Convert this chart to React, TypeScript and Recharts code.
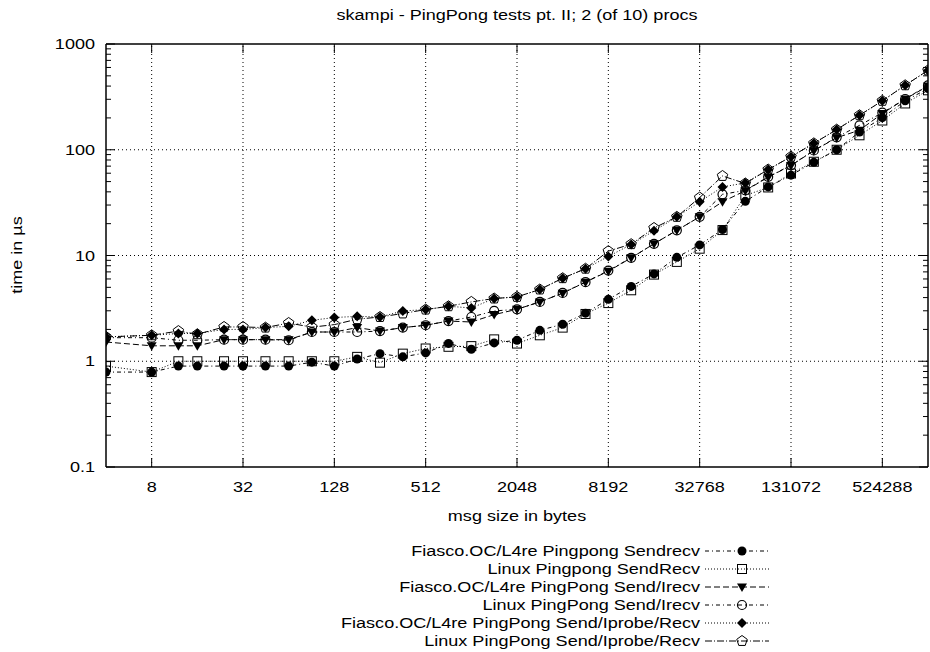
import React from "react";
import { LineChart, Line, XAxis, YAxis, ReferenceLine } from "recharts";

// message sizes in bytes (log2 axis)
const sizes = [
  4, 8, 12, 16, 24, 32, 45, 64, 91, 128, 181, 256, 362, 512, 724, 1024, 1448,
  2048, 2896, 4096, 5793, 8192, 11585, 16384, 23170, 32768, 46341, 65536,
  92682, 131072, 185364, 262144, 370728, 524288, 741455, 1048576,
];

// times in µs
const fiascoSendrecv = [
  0.79, 0.79, 0.9, 0.9, 0.9, 0.9, 0.9, 0.9, 0.98, 0.9, 1.05, 1.18, 1.1, 1.2,
  1.47, 1.3, 1.49, 1.58, 1.96, 2.24, 2.85, 3.85, 5.1, 6.7, 9.6, 12.6, 17.6,
  32.5, 44.5, 57.5, 76, 100, 147, 201, 290, 379,
];
const linuxSendRecv = [
  0.9, 0.79, 1.0, 1.0, 1.0, 1.0, 1.0, 1.0, 1.0, 1.0, 1.1, 0.97, 1.18, 1.32,
  1.37, 1.39, 1.61, 1.47, 1.76, 2.08, 2.8, 3.55, 4.69, 6.6, 8.7, 11.6, 17.4, 37,
  44, 59.6, 77, 100, 137, 189, 274, 365,
];
const fiascoIrecv = [
  1.52, 1.4, 1.4, 1.4, 1.6, 1.6, 1.6, 1.6, 1.89, 1.89, 2.08, 1.93, 2.08, 2.19,
  2.4, 2.35, 2.76, 3.1, 3.64, 4.4, 5.6, 7.1, 9.5, 12.9, 17.3, 23.2, 32.2, 41,
  55, 71, 98, 130, 153, 220, 302, 400,
];
const linuxIrecv = [
  1.67, 1.67, 1.58, 1.58, 1.6, 1.6, 1.6, 1.58, 1.89, 1.89, 1.89, 1.93, 2.08,
  2.19, 2.4, 2.62, 2.99, 3.1, 3.64, 4.43, 5.6, 7.2, 9.5, 12.9, 17.3, 23.2, 37.9,
  41.3, 55.5, 71.3, 98.5, 131, 170, 224, 302, 407,
];
const fiascoIprobe = [
  1.7, 1.76, 1.83, 1.83, 2.0, 2.0, 2.08, 2.14, 2.44, 2.59, 2.66, 2.62, 2.99,
  3.08, 3.31, 3.19, 3.92, 4.06, 4.77, 6.1, 7.5, 9.8, 12.7, 17.1, 23.2, 32.2,
  44.5, 48.6, 65, 86, 115, 155, 212, 290, 407, 563,
];
const linuxIprobe = [
  1.7, 1.76, 1.93, 1.8, 2.11, 2.11, 2.08, 2.3, 2.1, 2.22, 2.5, 2.62, 2.83, 3.08,
  3.31, 3.64, 3.92, 4.06, 4.77, 6.1, 7.5, 11.0, 12.8, 18.2, 23.2, 35.3, 56.5,
  48, 65, 86, 115, 155, 212, 290, 407, 563,
];

const xTicks = [8, 32, 128, 512, 2048, 8192, 32768, 131072, 524288];
const yMajor = [0.1, 1, 10, 100, 1000];
const yMinor = [
  0.2, 0.3, 0.4, 0.5, 0.6, 0.7, 0.8, 0.9, 2, 3, 4, 5, 6, 7, 8, 9, 20, 30, 40,
  50, 60, 70, 80, 90, 200, 300, 400, 500, 600, 700, 800, 900,
];

const FONT = '"Liberation Sans", Arial, Helvetica, sans-serif';
const FS = 15.3;
const SX = 1.18; // the reference lettering is a little wide

const series = [
  { key: "a", name: "Fiasco.OC/L4re Pingpong Sendrecv", values: fiascoSendrecv, shape: "circle", dash: "4 3 1 3" },
  { key: "b", name: "Linux Pingpong SendRecv", values: linuxSendRecv, shape: "square", dash: "1 2" },
  { key: "c", name: "Fiasco.OC/L4re PingPong Send/Irecv", values: fiascoIrecv, shape: "triangle", dash: "6 3" },
  { key: "d", name: "Linux PingPong Send/Irecv", values: linuxIrecv, shape: "ring", dash: "4 3 1 3" },
  { key: "e", name: "Fiasco.OC/L4re PingPong Send/Iprobe/Recv", values: fiascoIprobe, shape: "diamond", dash: "1 2" },
  { key: "f", name: "Linux PingPong Send/Iprobe/Recv", values: linuxIprobe, shape: "pentagon", dash: "7 2 1 2" },
];

const data = sizes.map((x, i) => {
  const row: Record<string, number> = { x };
  series.forEach((s) => (row[s.key] = s.values[i]));
  return row;
});

function Txt({ x, y, anchor, children, rotate }: any) {
  return (
    <text
      x={0}
      y={0}
      transform={`translate(${x},${y})${rotate ? ` rotate(${rotate})` : ""} scale(${SX},1)`}
      textAnchor={anchor}
      fontFamily={FONT}
      fontSize={FS}
      fill="#000"
    >
      {children}
    </text>
  );
}

function Marker({ shape, x, y }: { shape: string; x: number; y: number }) {
  if (x == null || y == null || isNaN(x) || isNaN(y)) return null;
  switch (shape) {
    case "circle":
      return <circle cx={x} cy={y} r={4.5} fill="#000" />;
    case "square":
      return <rect x={x - 4.5} y={y - 4.5} width={9} height={9} fill="none" stroke="#000" strokeWidth={1} />;
    case "triangle":
      return <polygon points={`${x - 5},${y - 3.5} ${x + 5},${y - 3.5} ${x},${y + 5}`} fill="#000" />;
    case "ring":
      return <circle cx={x} cy={y} r={4.5} fill="none" stroke="#000" strokeWidth={1.2} />;
    case "diamond":
      return <polygon points={`${x},${y - 5} ${x + 5},${y} ${x},${y + 5} ${x - 5},${y}`} fill="#000" />;
    default: {
      const pts = [0, 1, 2, 3, 4]
        .map((k) => {
          const a = -Math.PI / 2 + (k * 2 * Math.PI) / 5;
          return `${x + 5.5 * Math.cos(a)},${y + 5.5 * Math.sin(a)}`;
        })
        .join(" ");
      return <polygon points={pts} fill="none" stroke="#000" strokeWidth={1} />;
    }
  }
}

const fmtY = (v: number) => (v < 1 ? "0.1" : String(v));

function LeftTick(props: any) {
  const { x, y, payload } = props;
  const major = yMajor.includes(payload.value);
  return (
    <g>
      <line x1={x} y1={y} x2={x + (major ? 9 : 5)} y2={y} stroke="#000" />
      {major && (
        <Txt x={x - 11} y={y + 5} anchor="end">
          {fmtY(payload.value)}
        </Txt>
      )}
    </g>
  );
}

function RightTick(props: any) {
  const { x, y, payload } = props;
  const major = yMajor.includes(payload.value);
  return <line x1={x} y1={y} x2={x - (major ? 9 : 5)} y2={y} stroke="#000" />;
}

function BottomTick(props: any) {
  const { x, y, payload } = props;
  return (
    <g>
      <line x1={x} y1={y} x2={x} y2={y - 9} stroke="#000" />
      <Txt x={x} y={y + 25} anchor="middle">
        {payload.value}
      </Txt>
    </g>
  );
}

function TopTick(props: any) {
  const { x, y } = props;
  return <line x1={x} y1={y} x2={x} y2={y + 9} stroke="#000" />;
}

const axisLine = { stroke: "#000", strokeWidth: 1.5 };

export default function App() {
  return (
    <div style={{ position: "absolute", left: 0, top: 0, width: 930, height: 652, background: "#fff" }}>
      <LineChart width={930} height={652} data={data} margin={{ top: 43, right: 0, bottom: 155, left: 0 }}>
        <XAxis
          xAxisId="b"
          dataKey="x"
          type="number"
          scale="log"
          domain={[4, 1048576]}
          allowDataOverflow
          ticks={xTicks}
          interval={0}
          height={30}
          axisLine={axisLine}
          tickLine={false}
          tickSize={0}
          tickMargin={0}
          tick={<BottomTick />}
        />
        <XAxis
          xAxisId="t"
          orientation="top"
          dataKey="x"
          type="number"
          scale="log"
          domain={[4, 1048576]}
          allowDataOverflow
          ticks={xTicks}
          interval={0}
          height={1}
          axisLine={axisLine}
          tickLine={false}
          tickSize={0}
          tickMargin={0}
          tick={<TopTick />}
        />
        <YAxis
          yAxisId="l"
          type="number"
          scale="log"
          domain={[0.1, 1000]}
          allowDataOverflow
          ticks={[...yMajor, ...yMinor]}
          interval={0}
          width={106}
          axisLine={axisLine}
          tickLine={false}
          tickSize={0}
          tickMargin={0}
          tick={<LeftTick />}
        />
        <YAxis
          yAxisId="r"
          orientation="right"
          type="number"
          scale="log"
          domain={[0.1, 1000]}
          allowDataOverflow
          ticks={[...yMajor, ...yMinor]}
          interval={0}
          width={2}
          axisLine={axisLine}
          tickLine={false}
          tickSize={0}
          tickMargin={0}
          tick={<RightTick />}
        />
        {xTicks.map((v) => (
          <ReferenceLine key={"gx" + v} xAxisId="b" yAxisId="l" x={v} stroke="#000" strokeWidth={1} strokeDasharray="1 3" />
        ))}
        {[1, 10, 100].map((v) => (
          <ReferenceLine key={"gy" + v} xAxisId="b" yAxisId="l" y={v} stroke="#000" strokeWidth={1} strokeDasharray="1 3" />
        ))}
        {series.map((s) => (
          <Line
            key={s.key}
            xAxisId="b"
            yAxisId="l"
            dataKey={s.key}
            name={s.name}
            stroke="#000"
            strokeWidth={1}
            strokeDasharray={s.dash}
            isAnimationActive={false}
            dot={(p: any) => <Marker key={s.key + p.index} shape={s.shape} x={p.cx} y={p.cy} />}
            activeDot={false}
          />
        ))}
      </LineChart>
      <svg width={930} height={652} style={{ position: "absolute", left: 0, top: 0, pointerEvents: "none" }}>
        <Txt x={517} y={20} anchor="middle">
          skampi - PingPong tests pt. II; 2 (of 10) procs
        </Txt>
        <Txt x={517} y={521} anchor="middle">
          msg size in bytes
        </Txt>
        <Txt x={22} y={255} anchor="middle" rotate={-90}>
          time in µs
        </Txt>
        {series.map((s, i) => {
          const y = 551 + i * 18;
          return (
            <g key={"lg" + s.key}>
              <Txt x={700} y={y + 5} anchor="end">
                {s.name}
              </Txt>
              <line x1={705} y1={y} x2={769} y2={y} stroke="#000" strokeDasharray={s.dash} />
              <Marker shape={s.shape} x={742} y={y} />
            </g>
          );
        })}
      </svg>
    </div>
  );
}
